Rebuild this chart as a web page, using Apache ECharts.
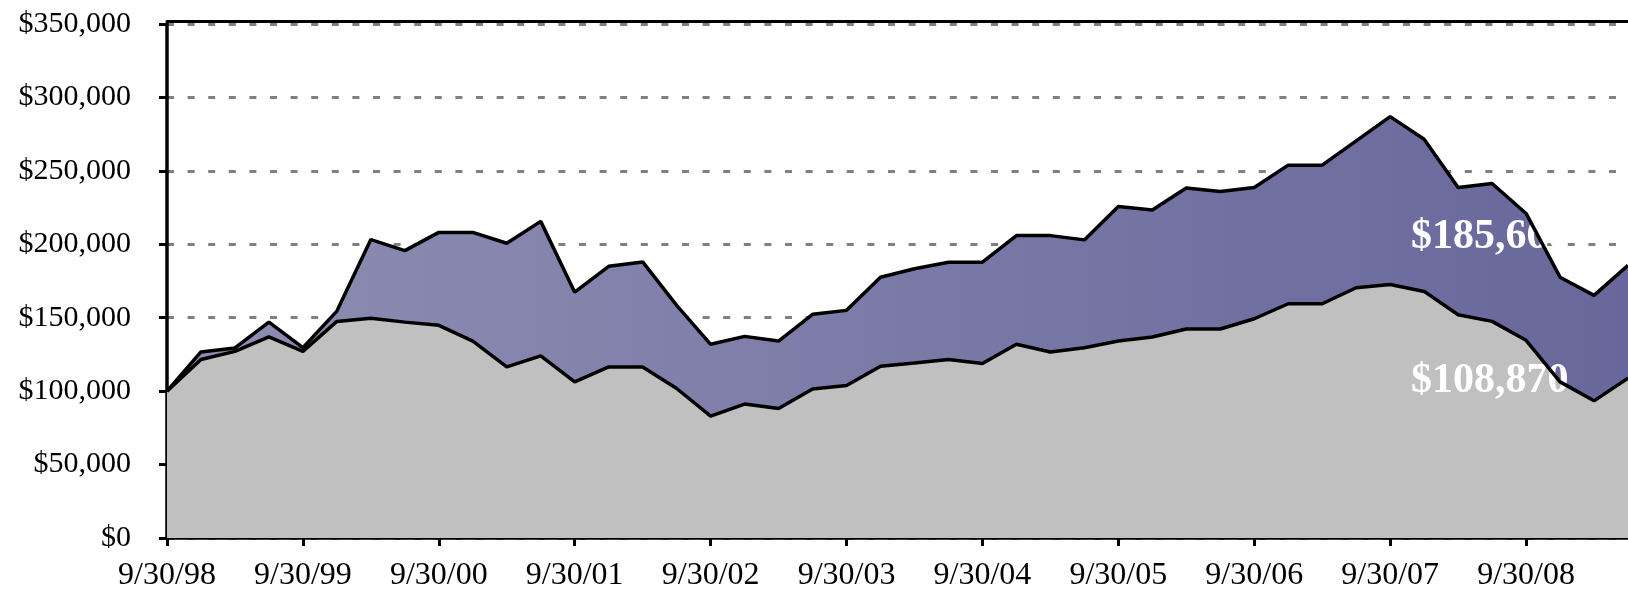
<!DOCTYPE html>
<html>
<head>
<meta charset="utf-8">
<title>Growth of $100,000</title>
<script src="https://cdn.jsdelivr.net/npm/echarts@6/dist/echarts.min.js"></script>
<style>
  html, body { margin: 0; padding: 0; background: #fff; }
  #chart { width: 1628px; height: 594px; }
</style>
</head>
<body>
<div id="chart"></div>
<script>
// quarter ends, 9/30/98 - 6/30/09
const quarters = [
  '9/30/98', '12/31/98', '3/31/99', '6/30/99',
  '9/30/99', '12/31/99', '3/31/00', '6/30/00',
  '9/30/00', '12/31/00', '3/31/01', '6/30/01',
  '9/30/01', '12/31/01', '3/31/02', '6/30/02',
  '9/30/02', '12/31/02', '3/31/03', '6/30/03',
  '9/30/03', '12/31/03', '3/31/04', '6/30/04',
  '9/30/04', '12/31/04', '3/31/05', '6/30/05',
  '9/30/05', '12/31/05', '3/31/06', '6/30/06',
  '9/30/06', '12/31/06', '3/31/07', '6/30/07',
  '9/30/07', '12/31/07', '3/31/08', '6/30/08',
  '9/30/08', '12/31/08', '3/31/09', '6/30/09'
];

// purple area (fund)
const fundValues = [
  100000, 126700, 129400, 147000,
  129600, 154500, 203200, 195700,
  208100, 208100, 200700, 215600,
  167400, 185000, 188000, 158400,
  131900, 137300, 134100, 152300,
  155000, 177600, 183300, 187800,
  187800, 205900, 205900, 203000,
  225800, 223300, 238300, 236000,
  238700, 253900, 253900, 270400,
  286900, 271500, 238700, 241400,
  221000, 177600, 165200, 185660
];

// grey area (index)
const indexValues = [
  100000, 121500, 127100, 136900,
  127100, 147500, 149700, 147000,
  144800, 134100, 116500, 124000,
  106300, 116500, 116500, 101800,
  83000, 91200, 88200, 101400,
  103900, 117000, 119200, 121500,
  118800, 131900, 126700, 129600,
  134100, 136900, 142300, 142300,
  149300, 159500, 159500, 170400,
  172600, 167900, 152000, 147500,
  134600, 106300, 93400, 108870
];

const yTicks = [0, 50000, 100000, 150000, 200000, 250000, 300000, 350000];

const serif = '"Liberation Serif", "Times New Roman", serif';

function money(v) {
  return '$' + v.toLocaleString('en-US');
}

let chart = echarts.init(document.getElementById('chart'));

chart.setOption({
  animation: false,
  backgroundColor: '#ffffff',
  // plot runs past the right edge, the last quarter is cut off
  grid: {
    left: 167,
    top: 24,
    width: 1474,
    height: 514
  },
  xAxis: [{
    type: 'category',
    boundaryGap: false,
    data: quarters,
    axisLine: { lineStyle: { color: '#000', width: 3.5 } },
    axisTick: {
      interval: 3,
      length: 8,
      lineStyle: { color: '#000', width: 3 }
    },
    axisLabel: {
      interval: 3,
      margin: 22,
      color: '#000',
      fontFamily: serif,
      fontSize: 32
    },
    splitLine: { show: false }
  }, {
    // top border
    type: 'category',
    position: 'top',
    offset: 3,
    boundaryGap: false,
    data: quarters,
    axisLine: { lineStyle: { color: '#000', width: 3 } },
    axisTick: { show: false },
    axisLabel: { show: false },
    splitLine: { show: false }
  }],
  yAxis: {
    type: 'value',
    min: yTicks[0],
    max: yTicks[yTicks.length - 1],
    interval: yTicks[1] - yTicks[0],
    axisLine: { show: true, lineStyle: { color: '#000', width: 3.5 } },
    axisTick: {
      show: true,
      length: 8,
      lineStyle: { color: '#000', width: 3 }
    },
    axisLabel: {
      margin: 36,
      color: '#000',
      fontFamily: serif,
      fontSize: 30,
      formatter: money
    },
    splitLine: {
      lineStyle: { color: '#808080', width: 3, type: [7, 13.6] }
    }
  },
  graphic: [{
    type: 'text',
    left: 1411,
    top: 216,
    z: 3,
    style: {
      text: money(fundValues[fundValues.length - 1]),
      fill: '#fff',
      font: 'bold 42px ' + serif
    }
  }, {
    type: 'text',
    left: 1411,
    top: 360,
    z: 3,
    style: {
      text: money(indexValues[indexValues.length - 1]),
      fill: '#fff',
      font: 'bold 42px ' + serif
    }
  }],
  series: [{
    name: 'fund area',
    type: 'line',
    z: 2,
    data: fundValues,
    symbol: 'none',
    lineStyle: { width: 0 },
    areaStyle: {
      opacity: 1,
      color: new echarts.graphic.LinearGradient(0, 0, 1, 0, [
        { offset: 0, color: '#8e8eb3' },
        { offset: 1, color: '#67679b' }
      ])
    }
  }, {
    name: 'index area',
    type: 'line',
    z: 2,
    data: indexValues,
    symbol: 'none',
    lineStyle: { width: 0 },
    areaStyle: { opacity: 1, color: '#c0c0c0' }
  }, {
    name: 'fund',
    type: 'line',
    z: 4,
    data: fundValues,
    symbol: 'none',
    lineStyle: { color: '#000', width: 3.5 }
  }, {
    name: 'index',
    type: 'line',
    z: 4,
    data: indexValues,
    symbol: 'none',
    lineStyle: { color: '#000', width: 3.5 }
  }]
});
</script>
</body>
</html>
